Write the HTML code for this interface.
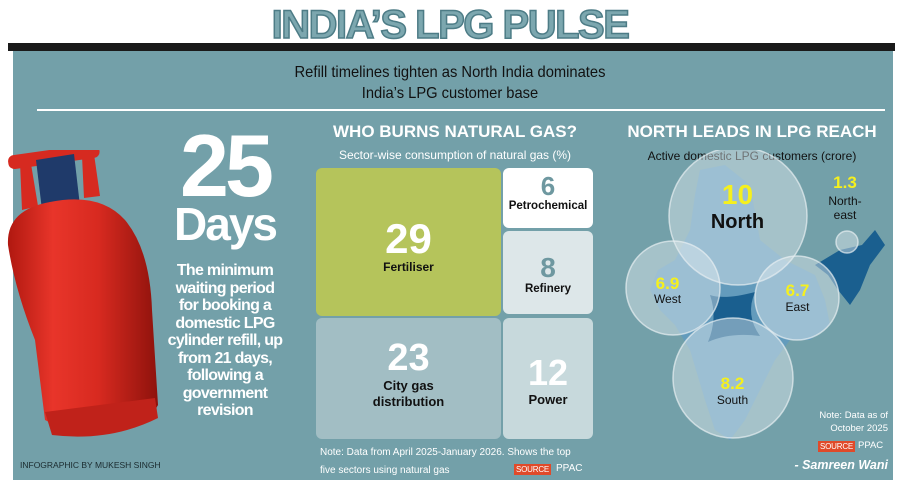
<!DOCTYPE html>
<html><head><meta charset="utf-8"><style>
*{margin:0;padding:0;box-sizing:border-box}
body{width:900px;height:487px;background:#fff;position:relative;overflow:hidden;font-family:"Liberation Sans",sans-serif}
.a{position:absolute}
.c{text-align:center}
.w{color:#fff}
.b{font-weight:bold}
.src{font-size:8px;background:#e04a2a;color:#fff;padding:1px 2px;letter-spacing:-0.2px}
</style></head><body>
<div class="a c b" style="left:0;top:3px;width:900px;font-size:40px;letter-spacing:-1.5px;color:#7ca7af;-webkit-text-stroke:1.5px #4d7c86">INDIA’S LPG PULSE</div>
<div class="a" style="left:8px;top:43px;width:887px;height:8px;background:#1a1a1a"></div>
<div class="a" style="left:13px;top:51px;width:880px;height:429px;background:#73a0a9"></div>
<div class="a c" style="left:0;top:62px;width:900px;font-size:16px;line-height:21px;color:#111;transform:scaleX(0.92)">Refill timelines tighten as North India dominates<br>India’s LPG customer base</div>
<div class="a" style="left:37px;top:109px;width:848px;height:2px;background:#fff"></div>

<svg class="a" style="left:0;top:150px" width="170" height="290" viewBox="0 0 170 290">
<defs><linearGradient id="g" x1="0" x2="1"><stop offset="0" stop-color="#b01810"/><stop offset=".3" stop-color="#e8352a"/><stop offset=".6" stop-color="#d82a20"/><stop offset="1" stop-color="#8e120c"/></linearGradient></defs>
<path d="M22 60 L20 12 L30 8 L38 56 Z M84 48 L82 6 L94 4 L100 46Z" fill="#d62a20"/>
<rect x="8" y="0" width="92" height="14" rx="6" fill="#d62a20" transform="rotate(-8 50 8)"/>
<path d="M36 10 L74 4 L80 56 L42 60Z" fill="#1f3a6a"/>
<path d="M8 95 Q6 60 50 52 Q100 42 125 70 Q150 100 152 160 L158 255 Q150 272 110 278 Q70 284 45 270 L35 190 Q15 140 8 95Z" fill="url(#g)"/>
<path d="M45 262 L155 248 L158 268 Q110 292 52 285Z" fill="#c0221a"/>
</svg>

<div class="a c w b" style="left:150px;top:122px;width:150px;font-size:88px;line-height:88px;letter-spacing:-4px">25</div>
<div class="a c w b" style="left:150px;top:200px;width:150px;font-size:46px;line-height:48px;letter-spacing:-2px">Days</div>
<div class="a c w b" style="left:165px;top:262px;width:120px;font-size:16px;line-height:17.5px;letter-spacing:-0.7px">The minimum waiting period for booking a domestic LPG cylinder refill, up from 21 days, following a government revision</div>
<div class="a" style="left:20px;top:460px;font-size:8.5px;color:#1a2a2e">INFOGRAPHIC BY MUKESH SINGH</div>

<div class="a c w b" style="left:310px;top:122px;width:290px;font-size:17px">WHO BURNS NATURAL GAS?</div>
<div class="a c w" style="left:310px;top:148px;width:290px;font-size:12px">Sector-wise consumption of natural gas (%)</div>
<div class="a c" style="left:316px;top:168px;width:185px;height:148px;background:#b5c45b;border-radius:6px;padding-top:50px"><div class="w b" style="font-size:42px;line-height:42px">29</div><div class="b" style="font-size:12px;color:#111">Fertiliser</div></div>
<div class="a c" style="left:503px;top:168px;width:90px;height:60px;background:#fff;border-radius:6px;padding-top:4px"><div class="b" style="font-size:26px;line-height:28px;color:#6e98a0">6</div><div class="b" style="font-size:11.5px;color:#111">Petrochemical</div></div>
<div class="a c" style="left:503px;top:231px;width:90px;height:83px;background:#dde7e9;border-radius:6px;padding-top:22px"><div class="b" style="font-size:28px;line-height:30px;color:#6e98a0">8</div><div class="b" style="font-size:11.5px;color:#111">Refinery</div></div>
<div class="a c" style="left:316px;top:318px;width:185px;height:121px;background:#a2bec4;border-radius:6px;padding-top:20px"><div class="w b" style="font-size:38px;line-height:40px">23</div><div class="b" style="font-size:13px;line-height:16px;color:#111">City gas<br>distribution</div></div>
<div class="a c" style="left:503px;top:318px;width:90px;height:121px;background:#c7d9dc;border-radius:6px;padding-top:36px"><div class="w b" style="font-size:36px;line-height:38px">12</div><div class="b" style="font-size:13px;color:#111">Power</div></div>
<div class="a w" style="left:320px;top:444px;font-size:10px;line-height:18px">Note: Data from April 2025-January 2026. Shows the top<br>five sectors using natural gas</div>
<div class="a src" style="left:514px;top:464px">SOURCE</div>
<div class="a w" style="left:556px;top:463px;font-size:10px">PPAC</div>

<div class="a c w b" style="left:612px;top:122px;width:280px;font-size:17px">NORTH LEADS IN LPG REACH</div>
<div class="a c" style="left:612px;top:149px;width:280px;font-size:12px;color:#111">Active domestic LPG customers (crore)</div>
<svg class="a" style="left:600px;top:150px" width="300" height="300">
<path d="M100 20 L125 15 L150 35 L160 90 L185 110 L215 125 L225 150 L230 175 L210 190 L190 190 L175 210 L160 240 L145 270 L130 290 L115 280 L105 250 L90 200 L75 175 L60 160 L50 140 L58 120 L75 110 L90 80 L95 45Z" fill="#5f9ac0" opacity=".8"/>
<path d="M215 115 L240 100 L262 95 L275 80 L285 95 L270 115 L260 140 L250 155 L238 140 L228 125Z" fill="#1a5f8f"/>
<path d="M110 145 Q125 150 155 142 Q145 165 160 186 Q130 182 108 192 Q118 168 110 145Z" fill="#1a5f8f"/>
<g fill="#e2ecef" fill-opacity=".45" stroke="#e8f0f2" stroke-opacity=".7" stroke-width="1.5">
<circle cx="138" cy="66" r="69"/><circle cx="73" cy="138" r="47"/><circle cx="197" cy="148" r="42"/><circle cx="133" cy="228" r="60"/><circle cx="247" cy="92" r="11"/></g>
</svg>
<div class="a c b" style="left:700px;top:180px;width:75px;font-size:28px;line-height:30px;color:#f5f01e">10</div>
<div class="a c b" style="left:700px;top:211px;width:75px;font-size:20px;color:#111">North</div>
<div class="a c b" style="left:820px;top:174px;width:50px;font-size:17px;line-height:18px;color:#f5f01e">1.3</div>
<div class="a c" style="left:820px;top:194px;width:50px;font-size:12px;line-height:14px;color:#111">North-<br>east</div>
<div class="a c b" style="left:640px;top:275px;width:55px;font-size:17px;line-height:18px;color:#f5f01e">6.9</div>
<div class="a c" style="left:640px;top:292px;width:55px;font-size:12px;color:#111">West</div>
<div class="a c b" style="left:770px;top:282px;width:55px;font-size:17px;line-height:18px;color:#f5f01e">6.7</div>
<div class="a c" style="left:770px;top:300px;width:55px;font-size:12px;color:#111">East</div>
<div class="a c b" style="left:705px;top:375px;width:55px;font-size:17px;line-height:18px;color:#f5f01e">8.2</div>
<div class="a c" style="left:705px;top:393px;width:55px;font-size:12px;color:#111">South</div>
<div class="a w" style="left:800px;top:409px;width:88px;text-align:right;font-size:9.5px;line-height:13px">Note: Data as of<br>October 2025</div>
<div class="a src" style="left:818px;top:441px">SOURCE</div>
<div class="a w" style="left:858px;top:440px;font-size:9.5px">PPAC</div>
<div class="a w b" style="left:780px;top:458px;width:108px;text-align:right;font-size:12.5px;font-style:italic">- Samreen Wani</div>
</body></html>
